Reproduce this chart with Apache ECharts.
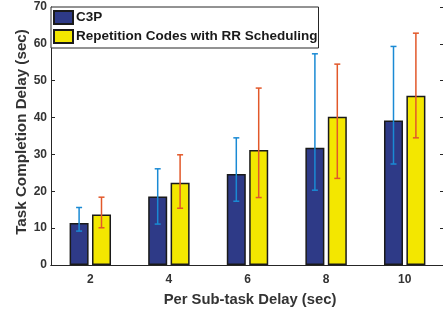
<!DOCTYPE html>
<html><head><meta charset="utf-8">
<script src="https://cdn.jsdelivr.net/npm/echarts@6/dist/echarts.min.js"></script>
<style>html,body{margin:0;padding:0;background:#fff}#c{width:443px;height:309px}</style>
</head><body><div id="c"></div>
<script>
var categories = ['2', '4', '6', '8', '10'];
var c3p = [11.4, 18.6, 24.7, 31.8, 39.2];
var rr = [13.7, 22.3, 31.2, 40.2, 45.9];
var c3pLow = [9.2, 11.1, 17.3, 20.3, 27.4];
var c3pHigh = [15.6, 26.1, 34.5, 57.3, 59.3];
var rrLow = [10.1, 15.4, 18.3, 23.5, 34.5];
var rrHigh = [18.4, 29.9, 48.0, 54.5, 62.9];
var yTicks = {min: 0, max: 70, interval: 10};

var FONT = 'Liberation Sans, Arial, sans-serif';
var AX = '#262626';
var BAR_W = 19, OFFSET = 11.2;

function errSeries(name, low, high, color, off) {
  return {
    type: 'custom', name: name, z: 5,
    data: low.map(function (l, i) { return [i, l, high[i]]; }),
    encode: {x: 0, y: [1, 2]},
    renderItem: function (params, api) {
      var i = api.value(0);
      var p1 = api.coord([i, api.value(1)]);
      var p2 = api.coord([i, api.value(2)]);
      var x = p1[0] + off, cap = 3;
      var st = {stroke: color, lineWidth: 1.5};
      return {type: 'group', children: [
        {type: 'line', shape: {x1: x, y1: p1[1], x2: x, y2: p2[1]}, style: st},
        {type: 'line', shape: {x1: x - cap, y1: p1[1], x2: x + cap, y2: p1[1]}, style: st},
        {type: 'line', shape: {x1: x - cap, y1: p2[1], x2: x + cap, y2: p2[1]}, style: st}
      ]};
    }
  };
}

var chart = echarts.init(document.getElementById('c'), null, {renderer: 'canvas'});
var axisLbl = {fontFamily: FONT, fontWeight: 'bold', fontSize: 12, color: '#333'};
chart.setOption({
  animation: false,
  textStyle: {fontFamily: FONT},
  grid: {left: 51, top: 7, width: 393, height: 258, containLabel: false, outerBoundsMode: 'none'},
  legend: {
    data: ['C3P', 'Repetition Codes with RR Scheduling'],
    orient: 'vertical', left: 51, top: 7,
    itemWidth: 19, itemHeight: 13, itemGap: 4,
    padding: [3, 1, 4, 2],
    borderColor: AX, borderWidth: 1, backgroundColor: '#fff',
    textStyle: {fontFamily: FONT, fontWeight: 'bold', fontSize: 13.5, lineHeight: 14, color: '#1a1a1a', padding: [0, 0, 0, -2]},
    icon: 'rect', z: 10
  },
  xAxis: [{
    type: 'category', data: categories, position: 'bottom',
    axisLine: {lineStyle: {color: AX, width: 1}},
    axisTick: {inside: true, length: 4, alignWithLabel: true, lineStyle: {color: AX}},
    axisLabel: Object.assign({margin: 9}, axisLbl),
    name: 'Per Sub-task Delay (sec)', nameLocation: 'middle', nameGap: 27, nameMoveOverlap: false,
    nameTextStyle: {fontFamily: FONT, fontWeight: 'bold', fontSize: 14.8, color: '#333', padding: [0, 0, 0, 5]}
  }, {
    type: 'category', data: categories, position: 'top',
    axisLine: {lineStyle: {color: AX, width: 1}},
    axisTick: {inside: true, length: 4, alignWithLabel: true, lineStyle: {color: AX}},
    axisLabel: {show: false}
  }],
  yAxis: [{
    type: 'value', min: yTicks.min, max: yTicks.max, interval: yTicks.interval,
    axisLine: {show: true, lineStyle: {color: AX, width: 1}},
    axisTick: {show: true, inside: true, length: 4, lineStyle: {color: AX}},
    splitLine: {show: false},
    axisLabel: Object.assign({margin: 4}, axisLbl),
    name: 'Task Completion Delay (sec)', nameLocation: 'middle', nameGap: 22, nameMoveOverlap: false,
    nameTextStyle: {fontFamily: FONT, fontWeight: 'bold', fontSize: 15.2, color: '#333', padding: [0, 0, 0, 8]}
  }, {
    type: 'value', min: yTicks.min, max: yTicks.max, interval: yTicks.interval, position: 'right',
    axisLine: {show: true, lineStyle: {color: AX, width: 1}},
    axisTick: {show: true, inside: true, length: 4, lineStyle: {color: AX}},
    splitLine: {show: false}, axisLabel: {show: false}
  }],
  series: [
    {name: 'C3P', type: 'bar', data: c3p, barWidth: BAR_W, barGap: '18%',
     itemStyle: {color: '#2e3a87', borderColor: '#1a1a1a', borderWidth: 1.5}},
    {name: 'Repetition Codes with RR Scheduling', type: 'bar', data: rr, barWidth: BAR_W, barGap: '18%',
     itemStyle: {color: '#f3e700', borderColor: '#1a1a1a', borderWidth: 1.5}},
    errSeries('errC3P', c3pLow, c3pHigh, '#1a8ad4', -OFFSET),
    errSeries('errRR', rrLow, rrHigh, '#e2582a', OFFSET)
  ]
});
</script></body></html>
